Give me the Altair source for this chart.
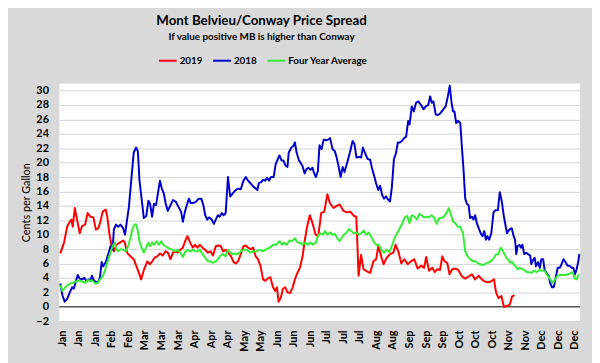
import altair as alt
import pandas as pd

month_labels = ["Jan", "Jan", "Jan", "Feb", "Feb", "Mar", "Mar", "Mar", "Apr", "Apr", "Apr",
                "May", "May", "Jun", "Jun", "Jun", "Jul", "Jul", "Jul", "Aug", "Aug",
                "Sep", "Sep", "Sep", "Oct", "Oct", "Oct", "Nov", "Nov", "Dec", "Dec", "Dec"]
y_ticks = list(range(-2, 31, 2))
series_names = ["2019", "2018", "Four Year Average"]
series_colors = ["#ff0000", "#0000cc", "#33ee33"]

# (trading-day index, cents per gallon)
s2019 = [(0,7.4),(1.8,8.9),(3.3,11.1),(4.6,11.8),(5.4,12.1),(6,11.1),(7,13.7),(7.8,12.5),(9.4,10.2),(10.5,11.2),
         (12,11.4),(13.2,13.0),(14.5,12.5),(16,12.4),(17.2,10.7),(18.4,10.9),(19.2,11.6),(20.5,13.2),(22,13.5),
         (22.7,12.5),(23.7,10.2),(24.8,8.4),(25.9,7.7),(27.2,8.6),(28.8,8.9),(30.4,9.2),(31.2,8.9),(32.3,7.5),
         (33.9,7.0),(35.5,6.6),(36.7,5.7),(38,4.7),(39.1,3.8),(40.3,5.0),(42.1,6.3),(43.4,5.9),(44.5,6.3),
         (45.6,6.8),(46.9,7.0),(48.2,7.4),(49.5,7.1),(50.9,7.7),(52,7.5),(53.3,6.6),(54.5,7.5),(55.7,7.7),
         (56.8,7.5),(58,7.9),(59.3,8.2),(60.4,9.1),(61.5,9.8),(62.8,8.9),(64.1,8.2),(65.2,8.6),(66.3,8.2),
         (67.6,8.6),(68.8,8.2),(70.1,7.9),(71.5,7.5),(72.7,7.7),(73.9,7.1),(75.2,8.4),(76.5,8.5),(77.7,8.4),
         (78.7,7.7),(80,7.9),(81.2,7.5),(82.6,7.0),(83.8,6.2),(84.9,6.0),(86,6.3),(87.3,7.3),(88.6,8.4),
         (89.7,8.5),(90.8,8.2),(92.1,8.0),(93.3,8.2),(94.5,7.0),(95.6,6.6),(96.8,5.7),(98.1,3.8),(99.2,3.6),
         (100.3,3.9),(101.6,4.1),(102.9,2.7),(104,2.2),(104.8,2.7),(105.6,0.7),(106.7,1.3),(107.7,2.5),
         (108.8,2.7),(109.9,2.0),(111.2,1.9),(112.4,2.7),(113.5,3.8),(114.7,4.7),(115.9,5.4),(117.2,7.0),
         (118.3,9.3),(119.4,11.1),(120.7,12.7),(122,11.6),(123.5,10.0),(124.8,9.8),(126.2,13.0),(127.7,13.2),
         (129.2,15.6),(130.4,14.4),(132.2,13.7),(133.7,14.0),(135.2,14.2),(137,13.3),(138.6,13.1),(140.3,13.2),
         (142,12.6),(143.2,12.5),(144.3,4.3),(145.5,7.2),(146.7,5.2),(148.3,4.9),(149.9,4.7),(151.5,6.3),
         (152.8,6.6),(153.9,8.5),(155,7.2),(156.4,5.9),(157.9,6.8),(159.5,7.3),(161.1,7.5),(162.2,8.6),
         (163.5,7.7),(165,6.0),(166.4,6.6),(168.1,5.9),(169.7,6.3),(171.2,6.6),(172.9,5.3),(174.5,5.7),
         (176,5.4),(177,6.9),(178.4,5.0),(180,5.4),(181.1,4.8),(182.4,5.2),(183.7,5.1),(184.8,7.0),(185.9,6.3),
         (187.2,6.1),(188.3,4.5),(189.6,5.2),(191.1,5.3),(192.5,5.1),(194.3,4.2),(195.9,3.9),(197.5,4.2),
         (199.1,4.5),(200.7,3.8),(202.5,4.3),(203.9,3.8),(205.3,3.5),(207.3,3.4),(208.8,3.6),(209.8,3.8),
         (210.8,2.0),(212,1.2),(213.4,1.5),(214.6,0.0),(216.1,0.1),(217.5,0.3),(218.5,1.4),(219.7,1.6)]

s2018 = [(0,3.2),(1,1.6),(2.1,0.7),(3.3,1.1),(4.6,2.0),(5.7,2.7),(6.5,2.5),(7.3,3.3),(8.4,4.4),(9.4,3.9),
         (10.5,3.8),(11.6,4.0),(12.6,3.6),(13.7,3.8),(14.5,3.6),(15.3,4.3),(16.1,3.7),(17.3,3.4),(18.4,3.5),
         (19.2,4.1),(20,6.2),(20.8,5.6),(22.1,6.3),(23.2,7.3),(24.3,8.4),(25.3,7.9),(25.9,10.7),(26.9,11.4),
         (28,11.1),(29.1,11.4),(30.4,10.9),(31.3,10.0),(32.3,12.1),(33.2,13.9),(34.3,17.5),(35.5,21.4),
         (36.7,22.1),(37.5,21.6),(38.3,17.5),(39.6,14.3),(40.4,12.3),(41.6,12.6),(42.6,14.7),(43.4,14.3),
         (44.4,12.5),(45.3,14.3),(46.3,14.1),(47.2,15.7),(48.2,17.5),(49.1,16.4),(50.1,15.7),(51,14.3),
         (52,13.3),(53.3,14.1),(54.5,14.8),(55.8,14.6),(57.1,13.9),(58.4,13.2),(59.3,11.8),(60.3,13.2),
         (61.2,14.1),(62.2,15.0),(63.1,14.4),(64.4,14.4),(65.7,14.6),(66.9,15.0),(68.2,15.0),(69.2,14.1),
         (70.1,12.7),(71.1,12.1),(72,12.4),(73.2,12.1),(74.3,11.5),(75.2,12.1),(76.2,12.7),(77.1,12.5),
         (78.1,13.0),(79,12.7),(80,13.0),(81.1,18.0),(82.2,15.3),(83.6,15.8),(84.9,16.2),(86,16.4),(87.3,16.3),
         (88.6,17.5),(89.7,18.0),(90.8,17.5),(92.1,17.1),(93.3,16.7),(94.5,16.4),(95.3,16.2),(96.1,17.2),
         (97.2,17.3),(98.1,17.6),(99.1,17.5),(100,17.9),(101,17.5),(101.9,18.0),(103.2,18.0),(104.2,19.8),
         (105.1,20.4),(106,21.0),(107,20.3),(108,20.3),(108.9,19.6),(109.9,19.4),(110.5,21.4),(111.8,22.1),
         (112.7,22.3),(113.5,22.8),(114.3,21.4),(115.5,20.3),(116.2,20.0),(117.2,19.5),(118.2,18.5),
         (119.1,19.1),(120,19.3),(121,19.0),(122,19.3),(122.6,18.7),(123.6,18.0),(124.6,18.8),(125.4,22.4),
         (126.4,21.9),(127.4,23.2),(128.5,23.1),(129.6,23.2),(130.5,23.4),(131.7,21.9),(132.8,21.6),
         (133.7,20.7),(134.7,19.4),(135.6,18.0),(136.6,19.4),(137.5,18.7),(138.8,20.0),(140.1,21.4),
         (141.4,23.0),(142.3,22.6),(143.3,20.7),(144.4,20.8),(145.5,20.7),(146.4,22.1),(147.6,21.2),
         (148.7,20.5),(149.9,20.4),(150.9,19.1),(151.8,18.2),(152.8,17.1),(153.8,16.2),(154.7,16.8),
         (155.7,15.5),(156.6,15.0),(157.6,15.3),(158.5,14.9),(159.5,14.6),(160.4,16.6),(161.4,20.5),
         (162.3,21.2),(163.3,22.8),(164.2,22.8),(165.2,23.0),(166.3,23.4),(167.3,23.6),(168.3,25.8),
         (169,25.3),(170,27.8),(171,27.1),(172.1,28.3),(173.2,28.5),(174.5,28.0),(175.7,27.4),(176.8,27.8),
         (178,28.0),(178.9,29.2),(179.7,28.3),(180.5,28.5),(181.6,26.7),(182.7,26.6),(184,26.9),(185.3,27.4),
         (186.4,27.8),(187.5,29.2),(188.4,30.7),(189.2,28.5),(190,27.1),(190.7,27.1),(191.5,25.5),(192.4,25.8),
         (193.5,25.5),(194.3,22.1),(195.1,18.9),(195.9,15.0),(196.7,14.3),(197.5,14.1),(198.3,12.3),
         (199.1,12.5),(199.9,12.1),(200.7,12.7),(201.5,11.6),(202.7,10.7),(203.5,10.1),(204.3,9.8),
         (205.1,10.5),(205.9,9.3),(206.6,9.8),(207.5,9.3),(208.5,10.2),(209.6,13.1),(210.5,13.4),(211.7,13.4),
         (212.6,15.9),(213.6,14.6),(214.5,12.7),(215.5,11.1),(216.1,10.2),(217.2,10.7),(218.4,10.9),
         (219.3,9.8),(220,9.3),(220.6,7.3),(221.2,8.4),(222.2,8.6),(222.8,8.2),(223.6,8.6),(224.4,7.3),
         (225.4,7.5),(226.3,7.3),(227.3,7.1),(227.9,5.9),(228.9,6.6),(229.5,6.8),(230.1,5.6),(231.1,6.2),
         (232,5.4),(232.7,6.6),(233.6,6.6),(234.3,5.1),(235.2,4.7),(236.2,4.3),(237.1,3.2),(237.9,2.7),
         (238.7,2.7),(239.7,4.1),(240.6,5.4),(241.6,5.4),(242.5,5.9),(243.5,6.6),(244.4,6.2),(245.4,5.7),
         (246.3,5.7),(247.3,5.4),(248.2,5.4),(249,4.5),(249.8,5.2),(250.6,6.3),(251.1,7.3)]

s4yr = [(0,3.0),(1,2.2),(2.1,2.6),(3.3,2.9),(4.6,3.2),(5.7,3.3),(6.8,3.4),(8.1,3.6),(9.4,3.6),(10.5,3.5),
        (12.1,3.3),(13.2,3.7),(14.5,3.6),(15.7,3.6),(16.9,3.2),(18,3.3),(19.2,3.8),(20.5,4.2),(21.6,5.0),
        (22.7,6.1),(24,7.3),(25.3,8.4),(26.4,8.9),(27.2,7.9),(28.1,7.7),(29.1,8.0),(30.4,7.9),(31.6,7.7),
        (32.8,8.4),(33.9,9.5),(34.8,10.7),(35.9,11.4),(36.7,11.4),(37.5,10.5),(38.3,9.1),(39.3,8.2),
        (40.4,7.5),(41.5,8.2),(42.5,8.9),(43.4,8.4),(44.4,8.9),(45.3,8.6),(46.6,9.1),(47.7,8.6),(48.8,9.1),
        (49.8,8.6),(50.9,8.4),(52,8.2),(53.3,8.0),(54.5,7.9),(55.7,7.7),(56.8,7.9),(58,7.5),(59.3,6.9),
        (60.4,7.6),(61.5,7.9),(62.8,7.7),(64.1,7.9),(65.2,7.7),(66.3,7.7),(67.6,7.9),(68.8,7.3),(70.1,6.8),
        (71.5,6.3),(72.7,6.3),(73.9,6.1),(75.2,6.3),(76.3,6.6),(77.4,7.1),(78.7,7.3),(80,7.0),(81.1,7.9),
        (82.2,7.5),(83.5,7.3),(84.1,7.4),(85.7,7.3),(87.3,7.7),(88.9,7.9),(90.5,7.9),(91.8,7.5),(93.3,7.7),
        (94.9,7.7),(96.5,7.9),(98.1,7.7),(99.7,8.0),(101.3,8.2),(102.9,8.6),(104.5,8.6),(106.1,9.1),
        (107.2,8.6),(108.3,8.9),(109.6,8.6),(110.8,9.2),(112.1,9.1),(113.5,9.5),(114.7,8.9),(115.9,8.9),
        (117.2,8.6),(118.5,8.9),(119.7,8.6),(121,8.9),(122.3,8.6),(123.6,8.9),(124.6,9.8),(125.8,10.2),
        (126.9,10.0),(128,10.5),(129.3,10.0),(130.5,10.3),(131.7,10.0),(132.8,10.1),(134,9.5),(135,9.1),
        (136,9.5),(137.2,10.0),(138.5,10.3),(139.6,10.8),(140.7,10.5),(142,10.2),(143.3,10.3),(144.4,10.0),
        (145.5,10.2),(146.8,10.6),(148,10.0),(149.1,10.3),(150.3,9.8),(151.5,9.1),(152.8,8.6),(154.1,8.6),
        (155.3,7.9),(156.6,7.5),(157.9,7.9),(159.2,7.6),(160.4,8.4),(161.7,9.5),(163,10.2),(164.2,10.9),
        (165.5,11.6),(166.6,12.4),(167.8,12.6),(168.9,11.6),(170,12.7),(171.3,12.5),(172.5,12.1),(173.7,12.9),
        (174.8,12.7),(176,12.4),(177.3,12.5),(178.4,12.4),(179.5,12.7),(180.8,12.4),(182.1,11.5),(183.2,12.3),
        (184.3,12.3),(185.6,12.5),(186.8,13.0),(188,13.7),(189.1,12.7),(190,11.8),(191.1,11.6),(192.3,11.1),
        (193.5,11.1),(194.8,10.2),(195.9,7.7),(197,7.0),(198.3,6.6),(199.6,6.3),(200.7,6.3),(201.8,6.1),
        (203.1,5.9),(204.3,5.8),(205.5,5.9),(206.6,6.1),(207.8,6.2),(209,6.5),(209.8,6.8),(210.9,7.3),
        (212,7.3),(213,8.2),(213.9,7.9),(214.9,7.3),(215.8,6.8),(216.8,6.5),(217.7,6.1),(218.4,6.3),
        (219.3,5.9),(220.3,5.6),(221.2,5.2),(222.2,5.4),(223.1,5.3),(224.4,5.1),(225.7,4.8),(226.9,4.8),
        (227.9,4.7),(229.2,5.0),(230.4,4.8),(231.7,5.1),(233,5.0),(234.3,5.0),(235.2,4.5),(236.3,4.1),
        (237.4,3.6),(238.4,3.3),(239.5,3.9),(240.6,4.3),(241.9,4.4),(243.2,4.4),(244.4,4.4),(245.7,4.5),
        (247,4.7),(247.9,4.8),(248.9,3.9),(249.8,3.8),(250.8,4.5)]

rows = []
for name, pts in zip(series_names, [s2019, s2018, s4yr]):
    for order, (i, v) in enumerate(pts):
        rows.append({"idx": i, "value": v, "series": name, "order": order})
df = pd.DataFrame(rows)

label_js = "[" + ",".join("'" + m + "'" for m in month_labels) + "]"
FONT = "Lato"

x_enc = alt.X(
    "idx:Q",
    scale=alt.Scale(domain=[-0.5, 251.5], nice=False, zero=False),
    axis=alt.Axis(
        values=[8 * k for k in range(len(month_labels))],
        labelExpr=label_js + "[round(datum.value / 8)]",
        labelAngle=270, labelOverlap=False, ticks=False, domain=False, grid=False,
        labelFont=FONT, labelFontWeight="bold", labelFontSize=11, labelColor="#000000",
        labelPadding=9, labelOffset=2,
    ),
    title=None,
)
y_enc = alt.Y(
    "value:Q",
    scale=alt.Scale(domain=[-2, 31], nice=False, zero=False),
    axis=alt.Axis(
        values=y_ticks, ticks=False, domain=False, grid=True, gridColor="#d4d4d4", gridWidth=1,
        labelOverlap=False,
        labelFont=FONT, labelFontWeight="bold", labelFontSize=11, labelColor="#000000", labelPadding=11,
        titleFont=FONT, titleFontWeight="normal", titleFontSize=11, titleColor="#000000", titlePadding=4,
    ),
    title="Cents per Gallon",
)

lines = alt.Chart(df).mark_line(strokeWidth=2, strokeJoin="round").encode(
    x=x_enc,
    y=y_enc,
    order="order:Q",
    color=alt.Color(
        "series:N",
        scale=alt.Scale(domain=series_names, range=series_colors),
        legend=alt.Legend(
            orient="none", legendX=100, legendY=-33, direction="horizontal", title=None,
            symbolType="stroke", symbolSize=324, symbolStrokeWidth=2,
            labelFont=FONT, labelFontWeight="bold", labelFontSize=10, labelColor="#000000",
            labelOffset=2, columnPadding=6,
        ),
    ),
)

zero_rule = alt.Chart(pd.DataFrame({"value": [0]})).mark_rule(color="#595959", strokeWidth=1.5).encode(
    y=y_enc
)

chart = alt.layer(zero_rule, lines).properties(
    width=528,
    height=241,
    autosize=alt.AutoSizeParams(type="none"),
    padding={"left": 52, "top": 74, "right": 12, "bottom": 40},
    background="#d9d9d9",
    title=alt.TitleParams(
        text="Mont Belvieu/Conway Price Spread",
        subtitle="If value positive MB is higher than Conway",
        anchor="middle", frame="group", dx=-59, offset=9,
        font=FONT, fontSize=13.5, fontWeight="bold", color="#000000",
        subtitleFont=FONT, subtitleFontSize=10, subtitleFontWeight="bold", subtitleColor="#000000",
        subtitlePadding=5,
    ),
).configure_view(fill="#ffffff", strokeWidth=0)

chart.save("out.html", embed_options={"renderer": "svg", "actions": False})
